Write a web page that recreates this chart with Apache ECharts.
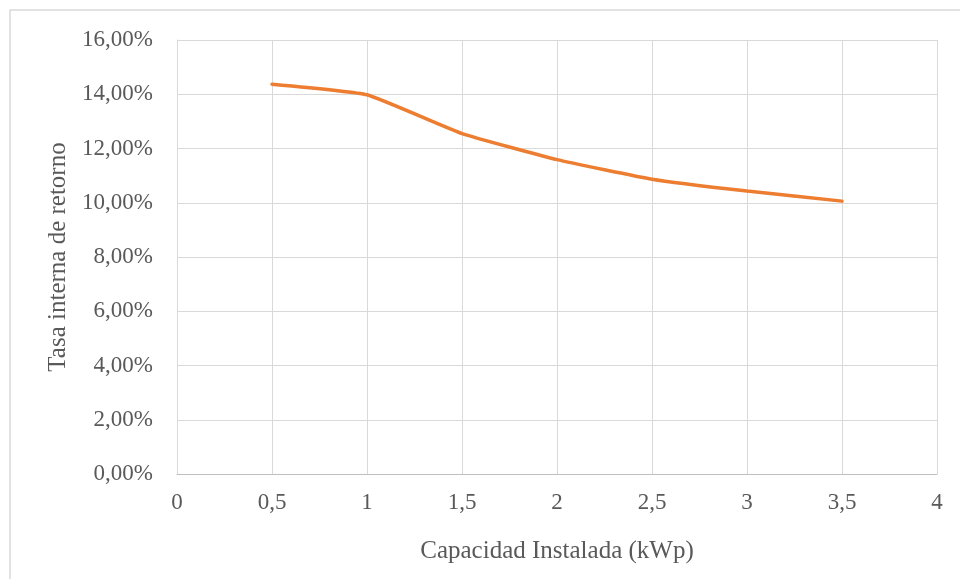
<!DOCTYPE html>
<html>
<head>
<meta charset="utf-8">
<script src="https://cdn.jsdelivr.net/npm/echarts@6/dist/echarts.min.js"></script>
<style>
html,body{margin:0;padding:0;background:#fff;}
#chart{width:960px;height:579px;}
</style>
</head>
<body>
<div id="chart"></div>
<script>
const capacidad = [0.5, 1, 1.5, 2, 2.5, 3, 3.5];
const tir = [14.37, 13.98, 12.55, 11.59, 10.87, 10.43, 10.06];
const xTitle = 'Capacidad Instalada (kWp)';
const yTitle = 'Tasa interna de retorno';

const chart = echarts.init(document.getElementById('chart'), null, {renderer: 'canvas'});
const font = 'Liberation Serif';
const txt = '#595959';
chart.setOption({
  animation: false,
  backgroundColor: '#fff',
  graphic: [{
    type: 'rect', silent: true,
    shape: {x: 10, y: 10, width: 960, height: 600},
    style: {fill: 'none', stroke: '#d9d9d9', lineWidth: 1.5}
  }],
  grid: {left: 177, right: 23, top: 40, bottom: 105, containLabel: false},
  xAxis: {
    type: 'value', min: 0, max: 4, interval: 0.5,
    name: xTitle, nameLocation: 'middle', nameGap: 65,
    nameTextStyle: {fontFamily: font, fontSize: 25, color: txt},
    axisLine: {show: true, lineStyle: {color: '#bfbfbf', width: 1}},
    axisTick: {show: false},
    splitLine: {show: true, lineStyle: {color: '#d9d9d9', width: 1}},
    axisLabel: {
      fontFamily: font, fontSize: 23, color: txt, margin: 17,
      formatter: v => String(v).replace('.', ',')
    }
  },
  yAxis: {
    type: 'value', min: 0, max: 16, interval: 2,
    name: yTitle, nameLocation: 'middle', nameGap: 105, nameRotate: 90,
    nameTextStyle: {fontFamily: font, fontSize: 25, color: txt},
    axisLine: {show: true, lineStyle: {color: '#d9d9d9', width: 1}},
    axisTick: {show: false},
    splitLine: {show: true, lineStyle: {color: '#d9d9d9', width: 1}},
    axisLabel: {
      fontFamily: font, fontSize: 23, color: txt, margin: 24,
      formatter: v => v.toFixed(2).replace('.', ',') + '%'
    }
  },
  series: [{
    type: 'line',
    data: capacidad.map((c, i) => [c, tir[i]]),
    showSymbol: false,
    smooth: 0.12,
    lineStyle: {color: '#ED7D31', width: 3.5, cap: 'round'},
    itemStyle: {color: '#ED7D31'}
  }]
});
</script>
</body>
</html>
